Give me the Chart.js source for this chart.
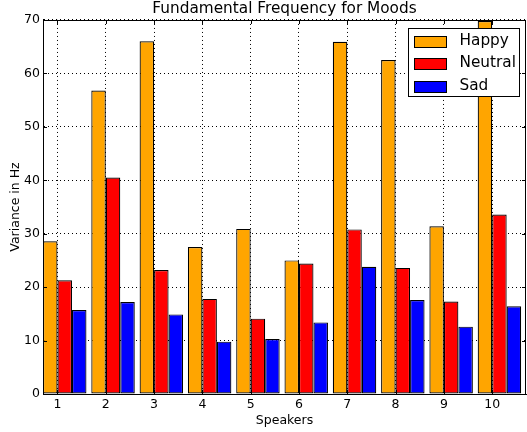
<!DOCTYPE html>
<html lang="en">
<head>
<meta charset="UTF-8">
<title>Fundamental Frequency for Moods</title>
<script src="https://cdn.jsdelivr.net/npm/chart.js@4"></script>
<style>
  html, body { margin: 0; padding: 0; background: #fff; }
  #wrap { width: 527px; height: 432px; }
</style>
</head>
<body>
<div id="wrap"><canvas id="canvas1" width="527" height="432"></canvas></div>

<script>
// data
const speakers = ['1', '2', '3', '4', '5', '6', '7', '8', '9', '10'];
const happy   = [28.6, 56.8, 66.0, 27.5, 30.9, 25.0, 65.9, 62.5, 31.4, 69.8];
const neutral = [21.3, 40.5, 23.2, 17.8, 14.1, 24.4, 30.8, 23.6, 17.3, 33.6];
const sad     = [15.7, 17.2, 14.9,  9.8, 10.3, 13.4, 23.8, 17.6, 12.6, 16.4];
const yTicks  = [0, 10, 20, 30, 40, 50, 60, 70];

const FONT = "'DejaVu Sans', sans-serif";

// bars sit at index..index+0.9 (three bars of 0.3), tick at index+0.3 like matplotlib
function toPoints(arr) {
  return arr.map((v, i) => ({ x: i + 0.45, y: v }));
}

function series(label, arr, color) {
  return {
    label: label,
    data: toPoints(arr),
    backgroundColor: color,
    borderColor: '#000',
    borderWidth: 1.2,
    borderSkipped: false,
    categoryPercentage: 0.9,
    barPercentage: 1.0
  };
}

// frame, inward ticks and boxed legend drawn on top
const framePlugin = {
  id: 'frame',
  afterDraw(chart) {
    const ctx = chart.ctx;
    const a = chart.chartArea;
    const xs = chart.scales.x, ys = chart.scales.y;
    ctx.save();
    ctx.strokeStyle = '#000';
    ctx.lineWidth = 1;
    ctx.setLineDash([]);
    ctx.beginPath();
    xs.ticks.forEach(t => {
      const px = Math.round(xs.getPixelForValue(t.value)) + 0.5;
      ctx.moveTo(px, a.bottom); ctx.lineTo(px, a.bottom - 4);
      ctx.moveTo(px, a.top); ctx.lineTo(px, a.top + 4);
    });
    ys.ticks.forEach(t => {
      const py = Math.round(ys.getPixelForValue(t.value)) + 0.5;
      ctx.moveTo(a.left, py); ctx.lineTo(a.left + 4, py);
      ctx.moveTo(a.right, py); ctx.lineTo(a.right - 4, py);
    });
    ctx.stroke();
    ctx.strokeRect(Math.round(a.left) + 0.5, Math.round(a.top) + 0.5,
                   Math.round(a.right - a.left) - 1, Math.round(a.bottom - a.top));

    // legend box
    const bw = 111, bh = 68;
    const bx = Math.round(a.right - 7 - bw) + 0.5, by = Math.round(a.top + 8) + 0.5;
    ctx.fillStyle = '#fff';
    ctx.fillRect(bx, by, bw, bh);
    ctx.strokeStyle = '#000';
    ctx.strokeRect(bx, by, bw, bh);
    ctx.font = '15.3px ' + FONT;
    ctx.textBaseline = 'middle';
    chart.data.datasets.forEach((ds, i) => {
      const cy = by + 12.5 + i * 22.5;
      ctx.fillStyle = ds.backgroundColor;
      ctx.fillRect(bx + 6, Math.round(cy - 5.5), 32, 11);
      ctx.strokeRect(bx + 6, Math.round(cy - 5.5) + 0.5, 32, 11);
      ctx.fillStyle = '#000';
      ctx.fillText(ds.label, bx + 51, cy);
    });
    ctx.restore();
  }
};

const data = {
  datasets: [
    series('Happy', happy, '#FFA500'),
    series('Neutral', neutral, '#FF0000'),
    series('Sad', sad, '#0000FF')
  ]
};

const config = {
  type: 'bar',
  data: data,
  options: {
    responsive: false,
    animation: false,
    layout: { padding: { left: 0, right: 1, top: 0, bottom: 0 } },
    plugins: {
      legend: { display: false },
      tooltip: { enabled: false },
      title: {
        display: true,
        fullSize: false,
        text: 'Fundamental Frequency for Moods',
        color: '#000',
        font: { family: FONT, size: 15.3, weight: 'normal', lineHeight: 1.2 },
        padding: { top: 0, bottom: 1.6 }
      }
    },
    scales: {
      x: {
        type: 'linear',
        min: 0,
        max: 10,
        offset: false,
        z: 1,
        afterBuildTicks: (axis) => {
          axis.ticks = speakers.map((s, i) => ({ value: i + 0.3 }));
        },
        afterFit: (scale) => { scale.height = 38; },
        ticks: {
          color: '#000',
          font: { family: FONT, size: 12.5 },
          padding: 3,
          maxRotation: 0,
          autoSkip: false,
          callback: (v, i) => speakers[i]
        },
        grid: { color: '#000', lineWidth: 1, drawTicks: false, offset: false },
        border: { display: true, color: '#000', width: 1, dash: [1, 3] },
        title: {
          display: true,
          text: 'Speakers',
          color: '#000',
          font: { family: FONT, size: 12.5, lineHeight: 1.2 },
          padding: { top: 0, bottom: 3.5 }
        }
      },
      y: {
        min: 0,
        max: 70,
        z: 1,
        afterBuildTicks: (axis) => {
          axis.ticks = yTicks.map(v => ({ value: v }));
        },
        afterFit: (scale) => { scale.width = 43; },
        ticks: {
          color: '#000',
          font: { family: FONT, size: 12.5 },
          padding: 3
        },
        grid: { color: '#000', lineWidth: 1, drawTicks: false },
        border: { display: true, color: '#000', width: 1, dash: [1, 3] },
        title: {
          display: true,
          text: 'Variance in Hz',
          color: '#000',
          font: { family: FONT, size: 12.5, lineHeight: 1.2 },
          padding: { top: 8, bottom: 0 }
        }
      }
    }
  },
  plugins: [framePlugin]
};

const resultChart = new Chart(document.getElementById('canvas1').getContext('2d'), config);
</script>
</body>
</html>
